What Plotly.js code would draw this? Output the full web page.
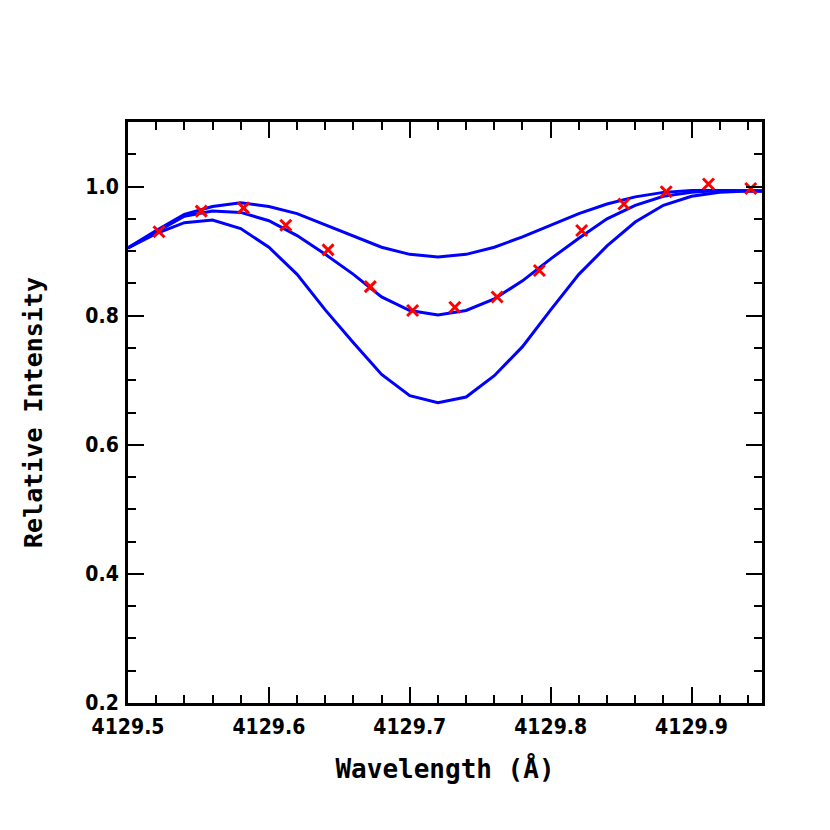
<!DOCTYPE html>
<html>
<head>
<meta charset="utf-8">
<script src="https://cdn.plot.ly/plotly-3.0.1.min.js"></script>
<style>
  body { margin: 0; background: #fff; }
  #chart { width: 830px; height: 830px; }
</style>
</head>
<body>
<div id="chart"></div>
<script>
// model grid (Å) shared by the three synthetic profiles
const modelWave = [
  4129.50, 4129.52, 4129.54, 4129.56, 4129.58, 4129.60, 4129.62, 4129.64,
  4129.66, 4129.68, 4129.70, 4129.72, 4129.74, 4129.76, 4129.78, 4129.80,
  4129.82, 4129.84, 4129.86, 4129.88, 4129.90, 4129.92, 4129.94, 4129.96,
];
const modelWeak = [
  0.905, 0.932, 0.957, 0.969, 0.975, 0.969, 0.958, 0.941,
  0.923, 0.906, 0.895, 0.891, 0.895, 0.906, 0.922, 0.940,
  0.958, 0.973, 0.984, 0.991, 0.994, 0.994, 0.993, 0.993,
];
const modelBest = [
  0.905, 0.930, 0.954, 0.962, 0.960, 0.947, 0.924, 0.895,
  0.864, 0.829, 0.808, 0.801, 0.808, 0.826, 0.854, 0.888,
  0.920, 0.950, 0.971, 0.985, 0.991, 0.994, 0.993, 0.993,
];
const modelStrong = [
  0.905, 0.927, 0.944, 0.948, 0.935, 0.906, 0.864, 0.809,
  0.758, 0.709, 0.676, 0.665, 0.674, 0.707, 0.752, 0.809,
  0.864, 0.908, 0.945, 0.971, 0.985, 0.991, 0.993, 0.993,
];

// observed spectrum
const obsWave = [
  4129.522, 4129.552, 4129.582, 4129.612, 4129.642, 4129.672, 4129.702, 4129.732,
  4129.762, 4129.792, 4129.822, 4129.852, 4129.882, 4129.912, 4129.942,
];
const obsFlux = [
  0.930, 0.962, 0.967, 0.940, 0.902, 0.845, 0.808, 0.813,
  0.829, 0.870, 0.932, 0.973, 0.992, 1.004, 0.997,
];

const blueLine = { color: "#0000ff", width: 3 };
const models = [modelWeak, modelBest, modelStrong].map((y) => ({
  x: modelWave,
  y: y,
  type: "scatter",
  mode: "lines",
  line: blueLine,
  hoverinfo: "skip",
}));

const observed = {
  x: obsWave,
  y: obsFlux,
  type: "scatter",
  mode: "markers",
  marker: {
    symbol: "x-thin",
    size: 11,
    color: "#ff0000",
    line: { color: "#ff0000", width: 3 },
  },
};

const tickFont = { family: "DejaVu Sans Condensed, DejaVu Sans", size: 21, color: "#000", weight: "bold" };
const titleFont = { family: "DejaVu Sans Mono", size: 26, color: "#000", weight: "bold" };

const axisBase = {
  showgrid: false,
  zeroline: false,
  showline: true,
  linecolor: "#000",
  linewidth: 3,
  mirror: "allticks",
  ticks: "inside",
  ticklen: 16,
  tickwidth: 2,
  tickcolor: "#000",
  tickfont: tickFont,
};

const layout = {
  width: 830,
  height: 830,
  showlegend: false,
  paper_bgcolor: "#fff",
  plot_bgcolor: "#fff",
  margin: { l: 128, r: 68, t: 122, b: 127 },
  xaxis: {
    ...axisBase,
    range: [4129.5, 4129.95],
    tickvals: [4129.5, 4129.6, 4129.7, 4129.8, 4129.9],
    ticktext: ["4129.5", "4129.6", "4129.7", "4129.8", "4129.9"],
    ticklabelstandoff: 3,
    minor: { dtick: 0.02, tick0: 4129.5, ticks: "inside", ticklen: 8, tickwidth: 2, tickcolor: "#000" },
    title: { text: "Wavelength (Å)", font: titleFont, standoff: 22 },
  },
  yaxis: {
    ...axisBase,
    range: [0.2, 1.1],
    tickvals: [0.2, 0.4, 0.6, 0.8, 1.0],
    ticktext: ["0.2", "0.4", "0.6", "0.8", "1.0"],
    ticklabelstandoff: 2,
    minor: { dtick: 0.05, tick0: 0.2, ticks: "inside", ticklen: 8, tickwidth: 2, tickcolor: "#000" },
    title: { text: "Relative Intensity", font: { ...titleFont, size: 25 }, standoff: 36 },
  },
};

Plotly.newPlot("chart", [...models, observed], layout, { displayModeBar: false, staticPlot: true });
</script>
</body>
</html>
